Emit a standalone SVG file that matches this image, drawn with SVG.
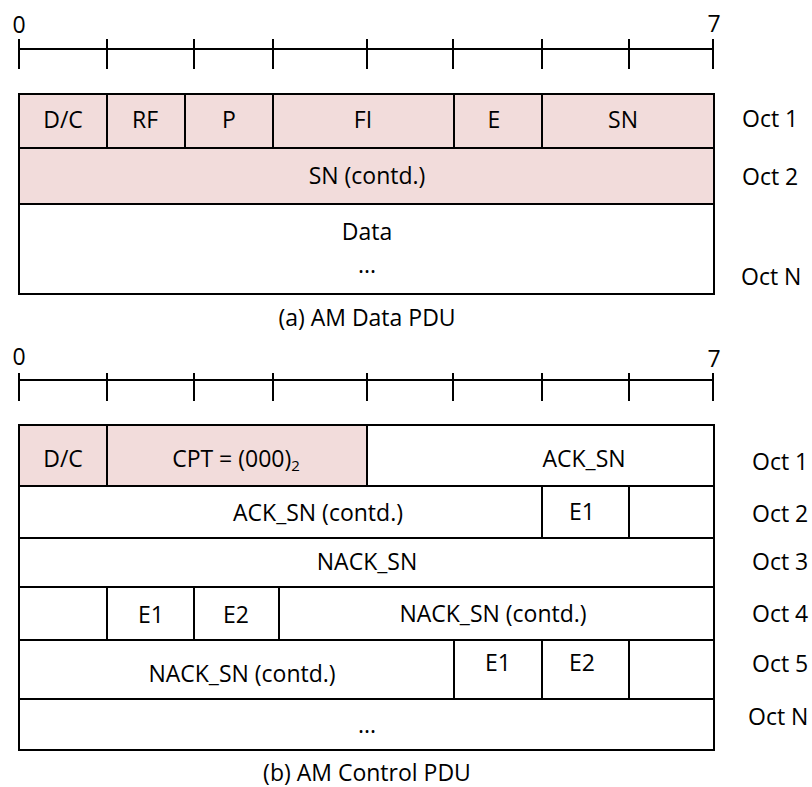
<svg xmlns="http://www.w3.org/2000/svg" width="812" height="787" viewBox="0 0 812 787">
  <style>
    .hdr { fill: #F2DCDB; stroke: #000; stroke-width: 2; }
    .cell { fill: #FFFFFF; stroke: #000; stroke-width: 2; }
    .rule { stroke: #000; stroke-width: 2; fill: none; }
    text { font-family: "Open Sans", "Liberation Sans", sans-serif; font-size: 23px; fill: #000; }
    .c { text-anchor: middle; }
    .s { text-anchor: start; }
  </style>
  <rect width="812" height="787" fill="#FFFFFF"/>

  <!-- (a) AM Data PDU -->
  <g id="ruler-a">
    <path class="rule" d="M19,49 H713 M19,39 V69 M107,39 V69 M194,39 V69 M273,39 V69 M367,39 V69 M453,39 V69 M542,39 V69 M629,39 V69 M713,39 V69"/>
    <text class="c" x="19" y="33">0</text>
    <text class="c" x="714" y="32">7</text>
  </g>

  <g id="a-dc"><rect class="hdr" x="19" y="94" width="88" height="54"/><text class="c" x="63" y="128">D/C</text></g>
  <g id="a-rf"><rect class="hdr" x="107" y="94" width="78" height="54"/><text class="c" x="145" y="128">RF</text></g>
  <g id="a-p"><rect class="hdr" x="185" y="94" width="88" height="54"/><text class="c" x="229" y="128">P</text></g>
  <g id="a-fi"><rect class="hdr" x="273" y="94" width="181" height="54"/><text class="c" x="363" y="128">FI</text></g>
  <g id="a-e"><rect class="hdr" x="454" y="94" width="88" height="54"/><text class="c" x="494" y="128">E</text></g>
  <g id="a-sn"><rect class="hdr" x="542" y="94" width="172" height="54"/><text class="c" x="623" y="128">SN</text></g>
  <g id="a-sn2"><rect class="hdr" x="19" y="148" width="695" height="56"/><text class="c" x="367" y="184">SN (contd.)</text></g>
  <g id="a-data"><rect class="cell" x="19" y="204" width="695" height="90"/><text class="c" x="367" y="240">Data</text><text class="c" x="367" y="273">...</text></g>

  <g id="a-octets">
    <text class="s" x="742" y="127">Oct 1</text>
    <text class="s" x="742" y="185">Oct 2</text>
    <text class="s" x="741" y="285">Oct N</text>
  </g>
  <text class="c" x="367" y="326">(a) AM Data PDU</text>

  <!-- (b) AM Control PDU -->
  <g id="ruler-b">
    <path class="rule" d="M19,380 H713 M19,373 V401 M107,373 V401 M194,373 V401 M273,373 V401 M367,373 V401 M453,373 V401 M542,373 V401 M629,373 V401 M713,373 V401"/>
    <text class="c" x="19" y="365">0</text>
    <text class="c" x="714" y="367">7</text>
  </g>

  <g id="b-dc"><rect class="hdr" x="19" y="425" width="88" height="61"/><text class="c" x="63" y="467">D/C</text></g>
  <g id="b-cpt"><rect class="hdr" x="107" y="425" width="260" height="61"/><text class="c" x="236" y="467">CPT = (000)<tspan font-size="15" dy="4">2</tspan></text></g>
  <g id="b-ack"><rect class="cell" x="367" y="425" width="347" height="61"/><text class="c" x="584" y="467">ACK_SN</text></g>

  <g id="b-ack2"><rect class="cell" x="19" y="486" width="523" height="52"/><text class="c" x="318" y="521">ACK_SN (contd.)</text></g>
  <g id="b-e1-o2"><rect class="cell" x="542" y="486" width="87" height="52"/><text class="c" x="582" y="520">E1</text></g>
  <g id="b-r-o2"><rect class="cell" x="629" y="486" width="85" height="52"/></g>

  <g id="b-nack"><rect class="cell" x="19" y="538" width="695" height="49"/><text class="c" x="367" y="570">NACK_SN</text></g>

  <g id="b-r-o4"><rect class="cell" x="19" y="587" width="88" height="53"/></g>
  <g id="b-e1-o4"><rect class="cell" x="107" y="587" width="87" height="53"/><text class="c" x="151" y="623">E1</text></g>
  <g id="b-e2-o4"><rect class="cell" x="194" y="587" width="85" height="53"/><text class="c" x="236" y="623">E2</text></g>
  <g id="b-nack2"><rect class="cell" x="279" y="587" width="435" height="53"/><text class="c" x="493" y="622">NACK_SN (contd.)</text></g>

  <g id="b-nack3"><rect class="cell" x="19" y="640" width="435" height="59"/><text class="c" x="242" y="682">NACK_SN (contd.)</text></g>
  <g id="b-e1-o5"><rect class="cell" x="454" y="640" width="88" height="59"/><text class="c" x="498" y="671">E1</text></g>
  <g id="b-e2-o5"><rect class="cell" x="542" y="640" width="87" height="59"/><text class="c" x="582" y="671">E2</text></g>
  <g id="b-r-o5"><rect class="cell" x="629" y="640" width="85" height="59"/></g>

  <g id="b-more"><rect class="cell" x="19" y="699" width="695" height="51"/><text class="c" x="367" y="733">...</text></g>

  <g id="b-octets">
    <text class="s" x="752" y="470">Oct 1</text>
    <text class="s" x="752" y="522">Oct 2</text>
    <text class="s" x="752" y="570">Oct 3</text>
    <text class="s" x="752" y="622">Oct 4</text>
    <text class="s" x="752" y="672">Oct 5</text>
    <text class="s" x="748" y="725">Oct N</text>
  </g>
  <text class="c" x="367" y="781">(b) AM Control PDU</text>

  <g id="connectors"/>
</svg>
